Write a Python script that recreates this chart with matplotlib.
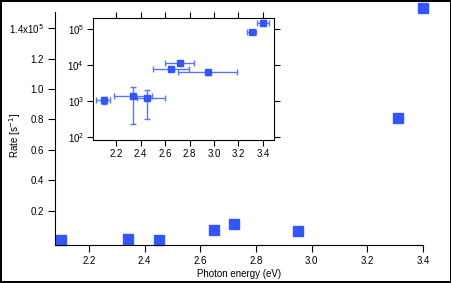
import numpy as np
import matplotlib.pyplot as plt

plt.rcParams['font.family'] = ['Liberation Sans', 'DejaVu Sans']
plt.rcParams['font.size'] = 7

# Datos: energia del foton (eV) y tasa (s^-1)
energy = [2.10, 2.34, 2.45, 2.65, 2.72, 2.95, 3.31, 3.40]
rate = [1070, 1375, 1190, 7750, 11400, 6550, 81000, 153000]
energy_err_lo = [0.06, 0.155, 0.08, 0.145, 0.12, 0.24, 0.04, 0.05]
energy_err_hi = [0.05, 0.155, 0.15, 0.145, 0.12, 0.24, 0.03, 0.05]
rate_err_lo = [250, 1145, 880, 900, 1000, 1100, 5000, 10000]
rate_err_hi = [250, 1125, 830, 900, 1000, 1000, 5000, 10000]

main_yticks = [0.2e5, 0.4e5, 0.6e5, 0.8e5, 1.0e5, 1.2e5, 1.4e5]
main_ylabels = ['0.2', '0.4', '0.6', '0.8', '1.0', '1.2', '1.4x10$^5$']
main_xticks = [2.2, 2.4, 2.6, 2.8, 3.0, 3.2, 3.4]

marker_color = '#3355ff'
err_color = '#5577ff'

fig = plt.figure(figsize=(4.52, 2.83), dpi=100)
fig.patch.set_edgecolor('black')
fig.patch.set_linewidth(1.5)

# Grafico principal (escala lineal)
ax = fig.add_axes([0.1217, 0.1343, 0.8143, 0.8233])
ax.plot(energy, rate, 's', color=marker_color, markersize=6.5, clip_on=False)
ax.set_xlim(2.078, 3.4)
ax.set_ylim(-0.023e5, 1.505e5)
ax.set_yticks(main_yticks)
ax.set_yticklabels(main_ylabels)
ax.set_xticks(main_xticks)
ax.set_xticklabels(['%.1f' % t for t in main_xticks])
ax.spines['top'].set_visible(False)
ax.spines['right'].set_visible(False)
ax.tick_params(direction='out', length=5, width=0.8, pad=3)
ax.set_xlabel('Photon energy (eV)', labelpad=2)
ax.set_ylabel('Rate [s$^{-1}$]')
ax.yaxis.set_label_coords(-0.088, 0.47)

# Recuadro (escala logaritmica con barras de error)
ins = fig.add_axes([0.2058, 0.5053, 0.4004, 0.4311])
ins.errorbar(energy, rate,
             xerr=[energy_err_lo, energy_err_hi],
             yerr=[rate_err_lo, rate_err_hi],
             fmt='s', color=marker_color, ecolor=err_color,
             markersize=5, elinewidth=1, capsize=2, capthick=1)
ins.set_yscale('log')
ins.set_xlim(2.012, 3.49)
ins.set_ylim(10**1.92, 10**5.31)
ins.set_xticks(main_xticks)
ins.set_xticklabels(['%.1f' % t for t in main_xticks])
ins.set_yticks([1e2, 1e3, 1e4, 1e5])
ins.minorticks_off()
ins.tick_params(direction='out', length=4.5, width=0.8, pad=2,
                top=True, right=True, labeltop=False, labelright=False)
for s in ins.spines.values():
    s.set_linewidth(0.8)

plt.savefig('out.png', dpi=100)
